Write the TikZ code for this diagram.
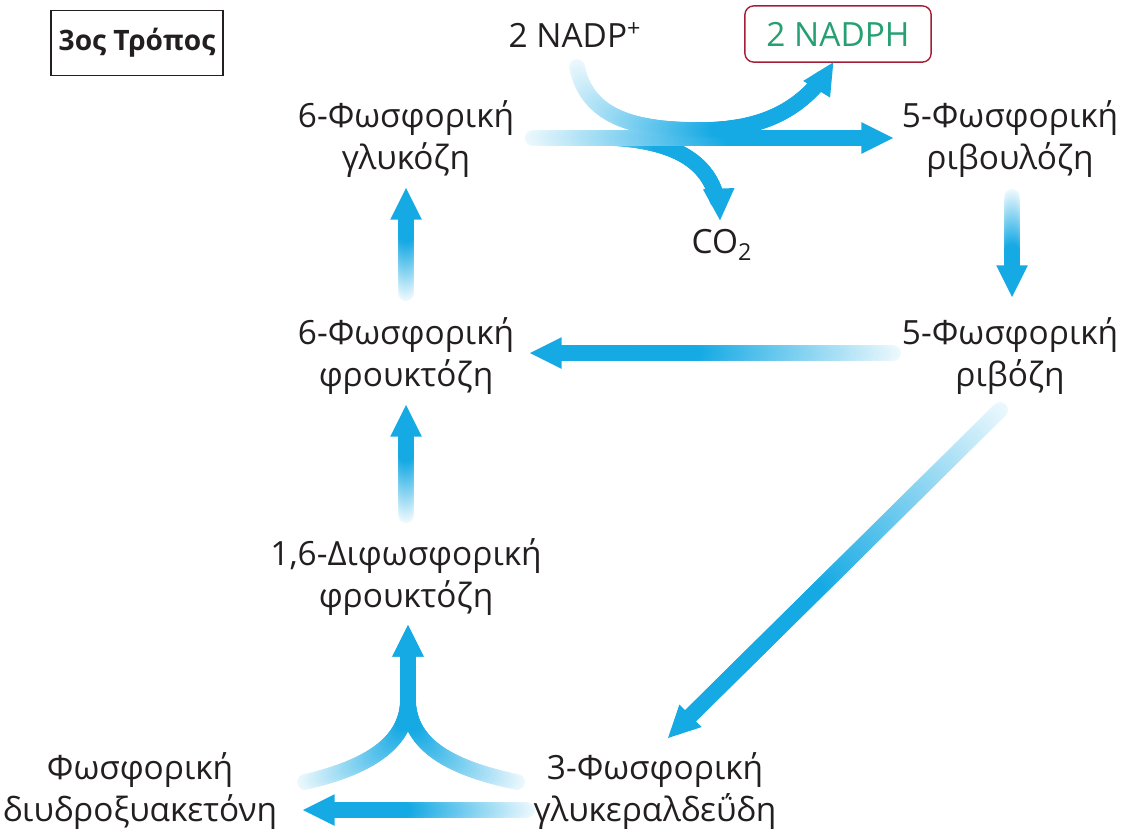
\documentclass[tikz,border=0pt]{standalone}
\usepackage{fontspec}
\setmainfont{Open Sans}
\usepackage{tikz}
\usetikzlibrary{positioning,calc,decorations.markings}

\definecolor{arrowblue}{RGB}{22,170,228}
\definecolor{textgray}{RGB}{35,31,32}
\definecolor{nadphgreen}{RGB}{38,160,115}
\definecolor{boxred}{RGB}{165,30,55}

\tikzset{
  metab/.style={align=center, text=textgray, font=\fontsize{19}{24}\selectfont, inner sep=2pt},
  flowarrow/.style={decoration={markings,
      mark=between positions 0 and -11pt step 1pt with {%
        \pgfmathsetmacro\tintval{min(100,8+167*(\pgfkeysvalueof{/pgf/decoration/mark info/distance from start}/\pgfdecoratedpathlength))}%
        \fill[arrowblue!\tintval!white] (0,0) circle (4.5pt);},
      mark=at position -0.3pt with {\fill[arrowblue] (0.3pt,0) -- (-17.7pt,9pt) -- (-17.7pt,-9pt) -- cycle;}},
    decorate}
}

\begin{document}
\begin{tikzpicture}[x=0.02cm, y=-0.02cm]
    \useasboundingbox (0,0) rectangle (1124,836);

    % Title
    \node[draw=textgray, line width=0.8pt, minimum width=98pt, minimum height=37pt,
        font=\bfseries\fontsize{16}{19}\selectfont, text=textgray] (title) at (137,43) {3ος Τρόπος};

    % Cofactors
    \node[metab] (nadp) at (575,35) {2 NADP\textsuperscript{+}};
    \node[metab, draw=boxred, line width=0.8pt, rounded corners=5pt, minimum width=106pt,
        minimum height=32pt, text=nadphgreen] (nadph) at (838,34) {2 NADPH};
    \node[metab] (co2) at (722,245) {CO\textsubscript{2}};

    % Metabolites
    \node[metab] (g6p) at (406,139) {6-Φωσφορική\\γλυκόζη};
    \node[metab] (ru5p) at (1010,139) {5-Φωσφορική\\ριβουλόζη};
    \node[metab] (f6p) at (406,356) {6-Φωσφορική\\φρουκτόζη};
    \node[metab] (r5p) at (1010,356) {5-Φωσφορική\\ριβόζη};
    \node[metab] (fbp) at (406,577) {1,6-Διφωσφορική\\φρουκτόζη};
    \node[metab] (dhap) at (140,791) {Φωσφορική\\διυδροξυακετόνη};
    \node[metab] (gap) at (655,791) {3-Φωσφορική\\γλυκεραλδεΰδη};

    % Oxidative step
    \path[flowarrow] ($(g6p)+(127,-1)$) -- (612,138) .. controls (685,142) and (718,168) .. ($(co2)+(-2,-25)$);
    \path[flowarrow] ($(g6p)+(127,-1)$) -- ($(ru5p)+(-117,-1)$);
    \path[flowarrow] ($(nadp)+(2,32)$) .. controls (588,120) and (640,130) .. (700,130)
        .. controls (765,130) and (805,108) .. ($(nadph.south)+(-5,0)$);

    % Right column and return
    \path[flowarrow] ($(ru5p)+(2,58)$) -- ($(r5p)+(2,-59)$);
    \path[flowarrow] ($(r5p)+(-117,-3)$) -- ($(f6p)+(124,-3)$);
    \path[flowarrow] ($(r5p)+(-10,54)$) -- ($(gap)+(13,-53)$);

    % Left column
    \path[flowarrow] ($(f6p)+(0,-63)$) -- ($(g6p)+(0,49)$);
    \path[flowarrow] ($(fbp)+(0,-62)$) -- ($(f6p)+(0,49)$);

    % Triose phosphates
    \path[flowarrow] ($(dhap)+(165,-9)$) .. controls (365,768) and (407,745) .. (408,700) -- ($(fbp)+(2,48)$);
    \path[flowarrow] ($(gap)+(-138,-9)$) .. controls (450,768) and (409,745) .. (408,700) -- ($(fbp)+(2,48)$);
    \path[flowarrow] ($(gap)+(-128,19)$) -- ($(dhap)+(163,19)$);
\end{tikzpicture}
\end{document}
